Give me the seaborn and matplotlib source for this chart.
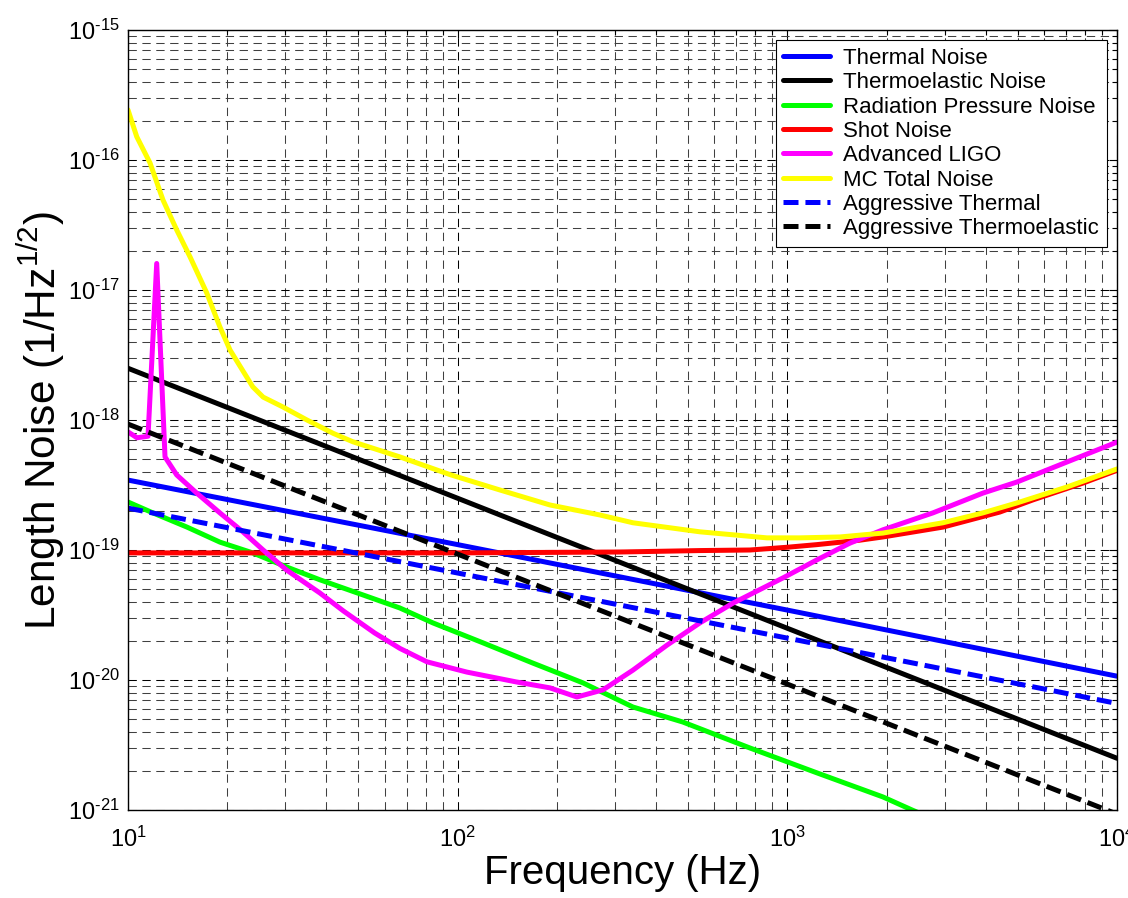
import matplotlib
matplotlib.use("Agg")
import numpy as np
import matplotlib.pyplot as plt
from matplotlib.ticker import LogLocator, NullFormatter, FuncFormatter
import pandas as pd
import seaborn as sns

# valeurs (fréquence en Hz, bruit en 1/sqrt(Hz))
thermal_f = [10, 100, 1000, 10000]
thermal = [3.45e-19, 1.1e-19, 3.45e-20, 1.07e-20]

thermoelastic_f = [10, 100, 1000, 10000]
thermoelastic = [2.5e-18, 2.5e-19, 2.5e-20, 2.5e-21]

radiation_f = [10, 11.9, 15.1, 19.0, 23.9, 30.3, 38.2, 50.5, 66.8, 84.1, 119.4, 169, 240,
               340, 482, 770, 1230, 1950, 2390, 3000]
radiation = [2.34e-19, 1.93e-19, 1.5e-19, 1.15e-19, 9.5e-20, 7.4e-20, 5.9e-20, 4.6e-20,
             3.58e-20, 2.75e-20, 1.93e-20, 1.35e-20, 9.5e-21, 6.2e-21, 4.75e-21, 3.0e-21,
             1.93e-21, 1.26e-21, 1.0e-21, 7.8e-22]

shot_f = [10, 100, 310, 543, 770, 1000, 1230, 1660, 1950, 2965, 4415, 5560, 7880, 10000]
shot = [9.5e-20, 9.5e-20, 9.65e-20, 9.9e-20, 1.0e-19, 1.05e-19, 1.1e-19, 1.19e-19,
        1.26e-19, 1.5e-19, 1.96e-19, 2.43e-19, 3.27e-19, 4.1e-19]

aligo_f = [10, 10.65, 11.5, 12.22, 12.95, 14.05, 16.16, 19.0, 22.3, 25.7, 30.3, 38.2,
           45.0, 56.0, 66.8, 80.7, 106.7, 151, 190.5, 230, 276, 340, 431, 543, 684, 970,
           1230, 1549, 1950, 2765, 3920, 4966, 7046, 10000]
aligo = [8.1e-19, 7.3e-19, 7.5e-19, 1.6e-17, 5.2e-19, 3.78e-19, 2.74e-19, 1.93e-19,
         1.38e-19, 1.0e-19, 7.0e-20, 4.67e-20, 3.4e-20, 2.3e-20, 1.75e-20, 1.38e-20,
         1.15e-20, 9.65e-21, 8.7e-21, 7.4e-21, 8.4e-21, 1.19e-20, 1.85e-20, 2.75e-20,
         3.9e-20, 6.1e-20, 8.4e-20, 1.13e-19, 1.43e-19, 1.93e-19, 2.74e-19, 3.33e-19,
         4.75e-19, 6.76e-19]

mc_f = [10, 10.63, 11.66, 12.77, 14.05, 15.42, 17.33, 19.0, 20.4, 23.9, 25.7, 29.5,
        34.9, 41.9, 48.1, 66.8, 94.8, 134, 190.5, 270, 340, 543, 867, 1092, 1445, 1950,
        2965, 3920, 4966, 7046, 10000]
mc_total = [2.43e-16, 1.51e-16, 9.5e-17, 4.92e-17, 2.9e-17, 1.8e-17, 9.5e-18, 5.2e-18,
            3.45e-18, 1.8e-18, 1.5e-18, 1.26e-18, 1.0e-18, 7.9e-19, 6.8e-19, 5.2e-19,
            3.8e-19, 2.9e-19, 2.22e-19, 1.86e-19, 1.62e-19, 1.38e-19, 1.24e-19, 1.24e-19,
            1.26e-19, 1.35e-19, 1.62e-19, 1.93e-19, 2.3e-19, 3.05e-19, 4.2e-19]

agg_thermal_f = [10, 100, 1000, 10000]
agg_thermal = [2.1e-19, 6.65e-20, 2.1e-20, 6.6e-21]

agg_thermoelastic_f = [10, 100, 1000, 10000]
agg_thermoelastic = [9.3e-19, 9.3e-20, 9.3e-21, 9.3e-22]

series = [
    ("Thermal Noise", thermal_f, thermal, "#0000ff", False),
    ("Thermoelastic Noise", thermoelastic_f, thermoelastic, "#000000", False),
    ("Radiation Pressure Noise", radiation_f, radiation, "#00ff00", False),
    ("Shot Noise", shot_f, shot, "#ff0000", False),
    ("Advanced LIGO", aligo_f, aligo, "#ff00ff", False),
    ("MC Total Noise", mc_f, mc_total, "#ffff00", False),
    ("Aggressive Thermal", agg_thermal_f, agg_thermal, "#0000ff", True),
    ("Aggressive Thermoelastic", agg_thermoelastic_f, agg_thermoelastic, "#000000", True),
]

sns.set_style("white")
plt.rcParams['font.family'] = ['Liberation Sans', 'DejaVu Sans']
plt.rcParams['mathtext.fontset'] = 'custom'
plt.rcParams['mathtext.rm'] = 'Liberation Sans'
plt.rcParams['mathtext.it'] = 'Liberation Sans:italic'
plt.rcParams['mathtext.bf'] = 'Liberation Sans:bold'
plt.rcParams['lines.scale_dashes'] = False
for key in ['text.color', 'axes.labelcolor', 'xtick.color', 'ytick.color', 'axes.edgecolor']:
    plt.rcParams[key] = 'black'

fig = plt.figure(figsize=(11.28, 8.98), dpi=100)
ax = fig.add_axes([128 / 1128, 1 - 810 / 898, 989 / 1128, 780 / 898])

lw = 3.6
for label, f, v, color, dashed in series:
    df = pd.DataFrame({"f": f, "v": v})
    sns.lineplot(data=df, x="f", y="v", ax=ax, color=color, label=label, lw=lw,
                 estimator=None, solid_joinstyle="round", solid_capstyle="round")
    if dashed:
        ax.lines[-1].set_dashes([10.8, 5.0])

ax.set_xscale("log")
ax.set_yscale("log")
ax.set_xlim(10, 1e4)
ax.set_ylim(1e-21, 1e-15)


def puissance(v, pos):
    # étiquette 10^n avec un tiret court comme matlab
    return r"$10^{\text{%d}}$" % int(round(np.log10(v)))


# grille façon matlab
ax.xaxis.set_major_locator(LogLocator(base=10, numticks=10))
ax.xaxis.set_minor_locator(LogLocator(base=10, subs=range(2, 10), numticks=40))
ax.yaxis.set_major_locator(LogLocator(base=10, numticks=10))
ax.yaxis.set_minor_locator(LogLocator(base=10, subs=range(2, 10), numticks=80))
ax.xaxis.set_major_formatter(FuncFormatter(puissance))
ax.yaxis.set_major_formatter(FuncFormatter(puissance))
ax.xaxis.set_minor_formatter(NullFormatter())
ax.yaxis.set_minor_formatter(NullFormatter())
ax.set_axisbelow(True)
ax.grid(which="major", color="k", lw=0.75, linestyle=(0, (6.0, 4.0)))
ax.grid(which="minor", color="0.25", lw=0.75, linestyle=(0, (6.0, 4.0)))

ax.tick_params(which="both", direction="in", top=True, right=True, color="k")
ax.tick_params(which="major", length=6, width=0.8, labelsize=17)
ax.tick_params(axis="y", which="major", pad=6)
ax.tick_params(axis="x", which="major", pad=12)
ax.tick_params(which="minor", length=3.5, width=0.8)
for sp in ax.spines.values():
    sp.set_color("k")
    sp.set_linewidth(1.0)

ax.set_xlabel("Frequency (Hz)", fontsize=29)
ax.xaxis.set_label_coords(0.5, -0.057)
ax.set_ylabel("Length Noise (1/Hz$^{1/2}$)", fontsize=30.5)
ax.yaxis.set_label_coords(-0.062, 0.5)

leg = ax.legend(loc="upper right", bbox_to_anchor=(0.9899, 0.987), borderaxespad=0,
                fontsize=16, handlelength=2.1, handletextpad=0.6, borderpad=0.35,
                labelspacing=0.15, fancybox=False, framealpha=1, edgecolor="k")
leg.get_frame().set_linewidth(0.8)

plt.savefig("out.png", dpi=100)
